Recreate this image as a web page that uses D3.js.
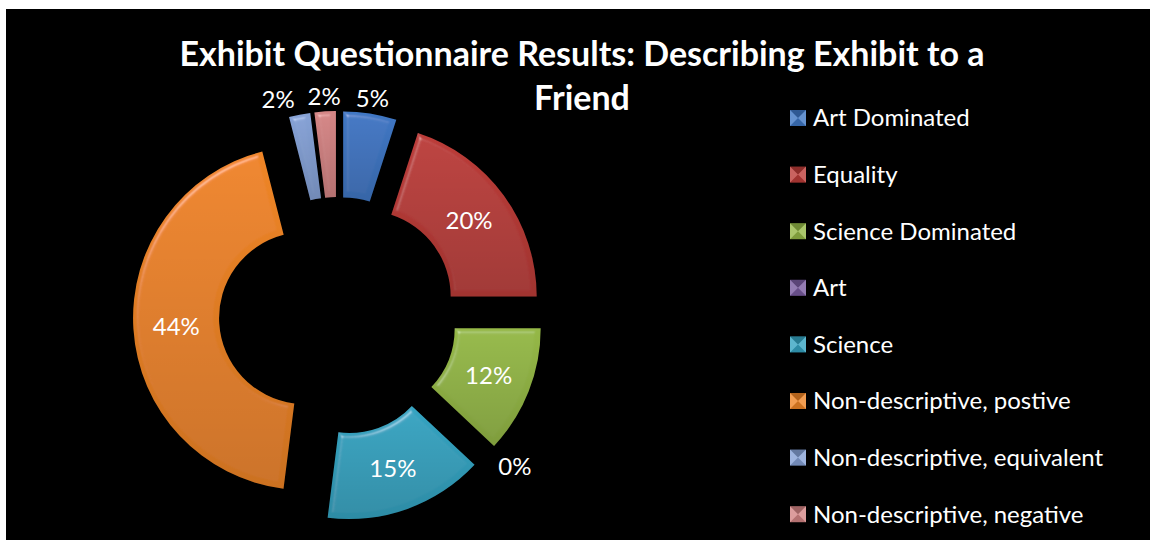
<!DOCTYPE html>
<html>
<head>
<meta charset="utf-8">
<script src="https://cdn.jsdelivr.net/npm/d3@7"></script>
<style>
  html, body { margin: 0; padding: 0; background: #fff; }
  svg { display: block; }
</style>
</head>
<body>
<div id="chart"></div>
<script>
// Data
const categories = ["Art Dominated", "Equality", "Science Dominated", "Art", "Science",
    "Non-descriptive, postive", "Non-descriptive, equivalent", "Non-descriptive, negative"];
const shares = [5, 20, 12, 0, 15, 44, 2, 2];
const sliceColors = ["#3f77c4", "#bc3c39", "#95b847", "#7a5ca0", "#35a4c2", "#ef8526", "#86a2d6", "#d48585"];
const titleLines = ["Exhibit Questionnaire Results: Describing Exhibit to a", "Friend"];

// Dimensions
const width = 1151, height = 540;
const cx = 338, cy = 316;
const outerR = 172, innerR = 86, explode = 33;

const svg = d3.select("#chart")
    .append("svg")
        .attr("width", width)
        .attr("height", height);

// black plot area
svg.append("rect")
    .attr("x", 6).attr("y", 9)
    .attr("width", 1144).attr("height", 531)
    .attr("fill", "#000");

// bevel filter for the slices
const defs = svg.append("defs");
const bevel = defs.append("filter").attr("id", "bevel")
    .attr("x", "-10%").attr("y", "-10%").attr("width", "120%").attr("height", "120%");
bevel.append("feGaussianBlur").attr("in", "SourceAlpha").attr("stdDeviation", 2.5).attr("result", "blur");
bevel.append("feSpecularLighting").attr("in", "blur").attr("surfaceScale", 4)
    .attr("specularConstant", 0.8).attr("specularExponent", 30)
    .attr("lighting-color", "#ffffff").attr("result", "spec")
    .append("feDistantLight").attr("azimuth", 235).attr("elevation", 40);
bevel.append("feComposite").attr("in", "spec").attr("in2", "SourceAlpha")
    .attr("operator", "in").attr("result", "specIn");
bevel.append("feComposite").attr("in", "SourceGraphic").attr("in2", "specIn")
    .attr("operator", "arithmetic").attr("k1", 0).attr("k2", 1).attr("k3", 0.3).attr("k4", 0);

// shading gradient: darker towards the bottom
const shade = defs.append("linearGradient").attr("id", "shade")
    .attr("x1", 0).attr("y1", 0).attr("x2", 0).attr("y2", 1);
shade.append("stop").attr("offset", "0%").attr("stop-color", "#000").attr("stop-opacity", 0);
shade.append("stop").attr("offset", "100%").attr("stop-color", "#000").attr("stop-opacity", 0.15);

const color = d3.scaleOrdinal().domain(categories).range(sliceColors);

const pie = d3.pie()
    .sort(null)
    .value(d => d.value);

const arcs = pie(categories.map((c, i) => ({ name: c, value: shares[i] })));

const arc = d3.arc().innerRadius(innerR).outerRadius(outerR);

const g = svg.append("g").attr("transform", `translate(${cx},${cy})`);

function offsetOf(d, dist) {
    const a = (d.startAngle + d.endAngle) / 2;
    return [Math.sin(a) * dist, -Math.cos(a) * dist];
}

// Slices
const slice = g.selectAll(".slice")
    .data(arcs.filter(d => d.value > 0))
    .join("g")
        .attr("class", "slice")
        .attr("transform", d => `translate(${offsetOf(d, explode)})`);

slice.append("path")
    .attr("d", arc)
    .attr("fill", d => color(d.data.name))
    .attr("filter", "url(#bevel)");

slice.append("path")
    .attr("d", arc)
    .attr("fill", "url(#shade)");

// Data labels: inside the ring for big slices, outside for small ones
const font = "Lato, 'Open Sans', sans-serif";
const labels = arcs.map(d => {
    const a = (d.startAngle + d.endAngle) / 2;
    const inside = d.value >= 10;
    const rr = inside ? (innerR + outerR) / 2 + explode : outerR + explode + 15;
    let anchor = "middle";
    if (!inside && Math.abs(Math.sin(a)) > 0.5) anchor = Math.sin(a) > 0 ? "start" : "end";
    return { d, x: Math.sin(a) * rr, y: -Math.cos(a) * rr, anchor, inside };
});

// push crowded outside labels apart (right to left)
const outside = labels.filter(l => !l.inside && l.anchor === "middle").sort((a, b) => b.x - a.x);
for (let i = 1; i < outside.length; i++) {
    const prev = outside[i - 1], cur = outside[i];
    if (Math.abs(prev.y - cur.y) < 30 && prev.x - cur.x < 46) cur.x = prev.x - 46;
}

g.selectAll(".label")
    .data(labels)
    .join("text")
        .attr("class", "label")
        .attr("x", l => l.x)
        .attr("y", l => l.y)
        .attr("dy", "0.35em")
        .attr("text-anchor", l => l.anchor)
        .style("font", `24px ${font}`)
        .style("fill", "#fff")
        .text(l => Math.round(l.d.value) + "%");

// Title
svg.selectAll(".title")
    .data(titleLines)
    .join("text")
        .attr("class", "title")
        .attr("x", 582)
        .attr("y", (d, i) => 66 + i * 44)
        .attr("text-anchor", "middle")
        .style("font", `bold 34px ${font}`)
        .style("fill", "#fff")
        .text(d => d);

// Legend
const legend = svg.append("g").attr("transform", "translate(790,118)");
const row = legend.selectAll(".legend-row")
    .data(categories)
    .join("g")
        .attr("class", "legend-row")
        .attr("transform", (d, i) => `translate(0,${i * 56.6})`);

const m = 16;
row.append("rect")
    .attr("x", 0).attr("y", -m / 2)
    .attr("width", m).attr("height", m)
    .attr("fill", d => color(d));

// pyramid bevel on the markers
const tri = [
    { pts: [[0, 0], [m, 0], [m / 2, m / 2]], fill: "#000", op: 0.25 },
    { pts: [[0, m], [m, m], [m / 2, m / 2]], fill: "#000", op: 0.15 },
    { pts: [[0, 0], [0, m], [m / 2, m / 2]], fill: "#fff", op: 0.2 },
    { pts: [[m, 0], [m, m], [m / 2, m / 2]], fill: "#fff", op: 0.2 }
];
tri.forEach(t => {
    row.append("path")
        .attr("d", "M" + t.pts.map(p => [p[0], p[1] - m / 2].join(",")).join("L") + "Z")
        .attr("fill", t.fill)
        .attr("fill-opacity", t.op);
});

row.append("text")
    .attr("x", 23)
    .attr("y", 0)
    .attr("dy", "0.35em")
    .style("font", `24px ${font}`)
    .style("fill", "#fff")
    .text(d => d);
</script>
</body>
</html>
